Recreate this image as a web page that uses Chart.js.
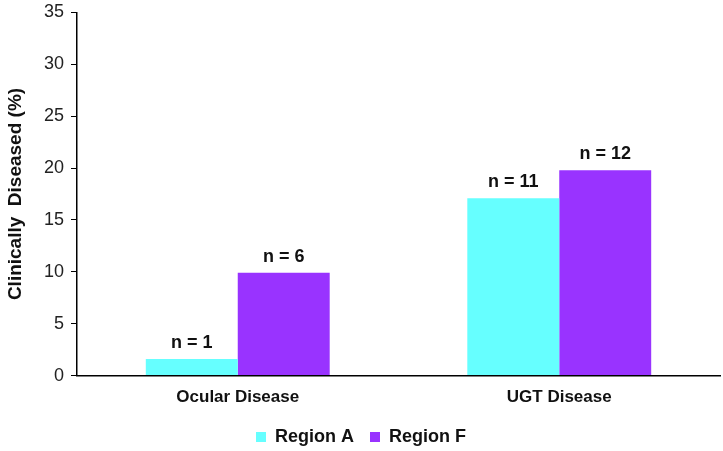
<!DOCTYPE html>
<html>
<head>
<meta charset="utf-8">
<script src="https://cdn.jsdelivr.net/npm/chart.js@4/dist/chart.umd.min.js"></script>
<style>
  html, body { margin: 0; padding: 0; background: #fff; }
  #wrap { width: 723px; height: 451px; }
</style>
</head>
<body>
<div id="wrap"><canvas id="c" width="723" height="451"></canvas></div>
<script>
// ---------- DATA ----------
const categories = ["Ocular Disease", "UGT Disease"];
const regionA = [1.6, 17.1];
const regionF = [9.9, 19.8];
const countsA = ["n = 1", "n = 11"];
const countsF = ["n = 6", "n = 12"];

const FONT = "'Liberation Sans', Arial, sans-serif";

// ---------- LABELS ABOVE BARS ----------
const countLabels = {
  id: "countLabels",
  afterDatasetsDraw(chart) {
    const ctx = chart.ctx;
    ctx.save();
    ctx.font = "bold 18px " + FONT;
    ctx.fillStyle = "#111";
    ctx.textAlign = "center";
    ctx.textBaseline = "bottom";
    chart.data.datasets.forEach((ds, i) => {
      chart.getDatasetMeta(i).data.forEach((bar, j) => {
        ctx.fillText(ds.counts[j], bar.x, bar.y - 7);
      });
    });
    ctx.restore();
  }
};

// legend sits a bit closer to the axis labels than chart.js would put it
const liftLegend = {
  id: "liftLegend",
  afterLayout(chart) {
    if (chart.legend) {
      chart.legend.top -= 8;
    }
  }
};

new Chart(document.getElementById("c"), {
  type: "bar",
  data: {
    labels: categories,
    datasets: [
      { label: "Region A", data: regionA, counts: countsA, backgroundColor: "#66FFFF" },
      { label: "Region F", data: regionF, counts: countsF, backgroundColor: "#9933FF" }
    ]
  },
  options: {
    responsive: false,
    animation: false,
    barPercentage: 1,
    categoryPercentage: 0.572,
    layout: { padding: { top: 0, right: 3, bottom: 0, left: 2 } },
    plugins: {
      legend: {
        position: "bottom",
        maxHeight: 31,
        labels: {
          boxWidth: 10, boxHeight: 10, padding: 16,
          color: "#111",
          font: { family: FONT, size: 18, weight: "bold" }
        }
      },
      tooltip: { enabled: false }
    },
    scales: {
      x: {
        grid: { display: false, drawTicks: false },
        border: { color: "#000", width: 1.5 },
        ticks: { color: "#111", padding: 12, font: { family: FONT, size: 17, weight: "bold" } }
      },
      y: {
        min: 0, max: 35,
        afterFit(s) { s.width = 75; },
        ticks: { stepSize: 5, color: "#222", padding: 7, font: { family: FONT, size: 18, lineHeight: 0.6 } },
        grid: { display: true, drawOnChartArea: false, drawTicks: true, tickLength: 6, tickColor: "#000" },
        border: { color: "#000", width: 1.5 },
        title: {
          display: true, text: "Clinically  Diseased (%)", color: "#111", padding: 2,
          font: { family: FONT, size: 19, weight: "bold" }
        }
      }
    }
  },
  plugins: [countLabels, liftLegend]
});
</script>
</body>
</html>
